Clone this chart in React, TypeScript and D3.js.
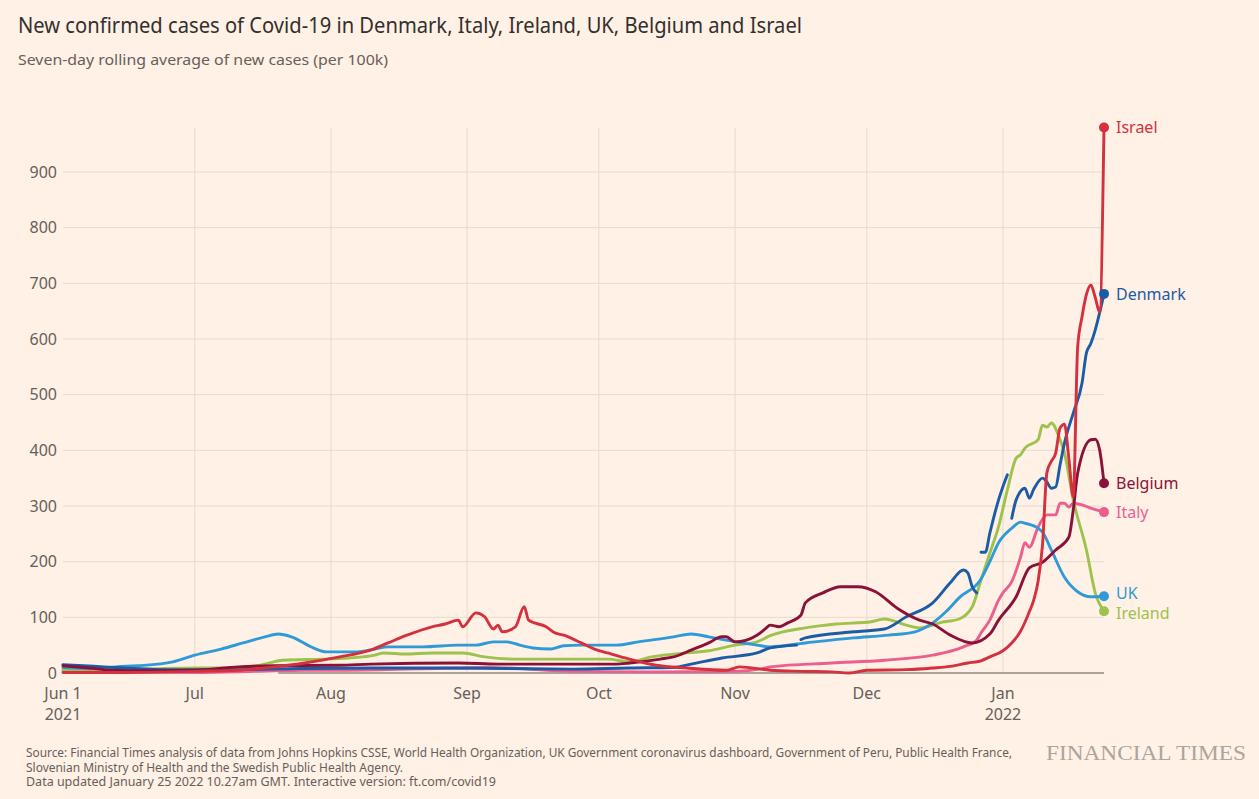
import React from "react";
import * as d3 from "d3";

type Pt = [string, number | null];

// ---------- DATA ----------
const israel: Pt[] = [
  ["2021-06-01", 1], ["2021-06-15", 1], ["2021-06-26", 2], ["2021-07-01", 3], ["2021-07-11", 5],
  ["2021-07-18", 10], ["2021-07-26", 18], ["2021-08-03", 29], ["2021-08-10", 41], ["2021-08-14", 54],
  ["2021-08-18", 67], ["2021-08-24", 83], ["2021-08-27", 88], ["2021-08-30", 95], ["2021-08-31", 83],
  ["2021-09-03", 108], ["2021-09-05", 101], ["2021-09-07", 79], ["2021-09-08", 86], ["2021-09-09", 74],
  ["2021-09-12", 83], ["2021-09-14", 119], ["2021-09-15", 95], ["2021-09-19", 83], ["2021-09-21", 72],
  ["2021-09-23", 68], ["2021-09-27", 54], ["2021-09-30", 43], ["2021-10-03", 36], ["2021-10-07", 27],
  ["2021-10-14", 14], ["2021-10-21", 9], ["2021-10-30", 5], ["2021-11-02", 11], ["2021-11-09", 5],
  ["2021-11-16", 3], ["2021-11-23", 2], ["2021-11-27", 0], ["2021-12-01", 5], ["2021-12-10", 6],
  ["2021-12-16", 9], ["2021-12-20", 12], ["2021-12-24", 18], ["2021-12-27", 22], ["2021-12-29", 29],
  ["2022-01-01", 40], ["2022-01-03", 54], ["2022-01-05", 75], ["2022-01-07", 110], ["2022-01-08", 131],
  ["2022-01-09", 165], ["2022-01-10", 230], ["2022-01-11", 360], ["2022-01-12", 380], ["2022-01-13", 395],
  ["2022-01-14", 440], ["2022-01-15", 447], ["2022-01-16", 385], ["2022-01-17", 316], ["2022-01-18", 585],
  ["2022-01-19", 640], ["2022-01-20", 680], ["2022-01-21", 697], ["2022-01-22", 675], ["2022-01-23", 648],
  ["2022-01-24", 980],
];

const denmark: Pt[] = [
  ["2021-06-01", 15], ["2021-06-08", 12], ["2021-06-15", 9], ["2021-06-25", 6], ["2021-07-10", 6],
  ["2021-07-25", 8], ["2021-08-10", 9], ["2021-08-25", 9], ["2021-09-10", 8], ["2021-09-25", 7],
  ["2021-10-08", 9], ["2021-10-18", 10], ["2021-10-22", 16], ["2021-10-29", 27], ["2021-11-06", 36],
  ["2021-11-09", 45], ["2021-11-15", 50], ["2021-11-15T18:00:00Z", null], ["2021-11-16", 60], ["2021-11-17", 63], ["2021-11-28", 74],
  ["2021-12-05", 79], ["2021-12-10", 101], ["2021-12-16", 126], ["2021-12-20", 162], ["2021-12-23", 185],
  ["2021-12-24", 180], ["2021-12-25", 155], ["2021-12-26", 144], ["2021-12-26T12:00:00Z", null],
  ["2021-12-27", 217], ["2021-12-28", 217], ["2021-12-29", 251], ["2021-12-31", 311], ["2022-01-01", 335],
  ["2022-01-02", 356], ["2022-01-02T12:00:00Z", null], ["2022-01-03", 278], ["2022-01-04", 311],
  ["2022-01-06", 332], ["2022-01-07", 314], ["2022-01-08", 330], ["2022-01-10", 350], ["2022-01-11", 343],
  ["2022-01-12", 332], ["2022-01-13", 334], ["2022-01-14", 374], ["2022-01-15", 413], ["2022-01-17", 467],
  ["2022-01-19", 521], ["2022-01-20", 575], ["2022-01-21", 592], ["2022-01-22", 616], ["2022-01-23", 647],
  ["2022-01-24", 681],
];

const uk: Pt[] = [
  ["2021-06-01", 10], ["2021-06-09", 8], ["2021-06-13", 11], ["2021-06-18", 13], ["2021-06-26", 20],
  ["2021-07-01", 32], ["2021-07-07", 43], ["2021-07-12", 54], ["2021-07-17", 65], ["2021-07-20", 70],
  ["2021-07-23", 65], ["2021-07-28", 45], ["2021-07-31", 38], ["2021-08-07", 38], ["2021-08-11", 43],
  ["2021-08-14", 47], ["2021-08-22", 47], ["2021-08-30", 50], ["2021-09-03", 50], ["2021-09-07", 56],
  ["2021-09-10", 56], ["2021-09-13", 50], ["2021-09-16", 45], ["2021-09-20", 43], ["2021-09-23", 49],
  ["2021-09-27", 50], ["2021-10-05", 50], ["2021-10-10", 56], ["2021-10-18", 65], ["2021-10-22", 70],
  ["2021-10-26", 65], ["2021-10-30", 59], ["2021-11-06", 50], ["2021-11-09", 47], ["2021-11-17", 54],
  ["2021-11-28", 63], ["2021-12-06", 68], ["2021-12-12", 74], ["2021-12-16", 90], ["2021-12-19", 110],
  ["2021-12-22", 135], ["2021-12-27", 169], ["2021-12-29", 200], ["2021-12-31", 234], ["2022-01-03", 260],
  ["2022-01-05", 271], ["2022-01-06", 269], ["2022-01-09", 260], ["2022-01-10", 253], ["2022-01-12", 221],
  ["2022-01-15", 172], ["2022-01-18", 146], ["2022-01-21", 137], ["2022-01-24", 138],
];

const ireland: Pt[] = [
  ["2021-06-01", 6], ["2021-06-15", 7], ["2021-06-24", 8], ["2021-07-02", 9], ["2021-07-11", 10],
  ["2021-07-15", 13], ["2021-07-19", 20], ["2021-07-21", 23], ["2021-07-30", 25], ["2021-08-05", 27],
  ["2021-08-11", 32], ["2021-08-13", 36], ["2021-08-18", 34], ["2021-08-24", 36], ["2021-08-31", 36],
  ["2021-09-05", 29], ["2021-09-12", 25], ["2021-09-20", 25], ["2021-10-03", 25], ["2021-10-08", 20],
  ["2021-10-13", 29], ["2021-10-18", 34], ["2021-10-26", 40], ["2021-11-01", 50], ["2021-11-06", 56],
  ["2021-11-09", 67], ["2021-11-17", 81], ["2021-11-24", 88], ["2021-12-02", 92], ["2021-12-05", 97],
  ["2021-12-10", 86], ["2021-12-13", 81], ["2021-12-18", 91], ["2021-12-22", 97], ["2021-12-25", 119],
  ["2021-12-27", 167], ["2021-12-29", 215], ["2021-12-31", 263], ["2022-01-02", 329], ["2022-01-04", 386],
  ["2022-01-05", 392], ["2022-01-06", 404], ["2022-01-09", 419], ["2022-01-10", 445], ["2022-01-11", 442],
  ["2022-01-12", 449], ["2022-01-14", 419], ["2022-01-15", 395], ["2022-01-17", 311], ["2022-01-20", 221],
  ["2022-01-22", 144], ["2022-01-24", 111],
];

const belgium: Pt[] = [
  ["2021-06-01", 13], ["2021-06-07", 9], ["2021-06-12", 5], ["2021-06-20", 4], ["2021-07-01", 5],
  ["2021-07-11", 11], ["2021-07-19", 13], ["2021-08-03", 14], ["2021-08-10", 16], ["2021-08-30", 18],
  ["2021-09-08", 16], ["2021-10-05", 16], ["2021-10-08", 18], ["2021-10-15", 25], ["2021-10-18", 29],
  ["2021-10-22", 41], ["2021-10-26", 54], ["2021-10-29", 65], ["2021-10-30", 65], ["2021-11-01", 56],
  ["2021-11-06", 68], ["2021-11-08", 80], ["2021-11-09", 86], ["2021-11-11", 83], ["2021-11-13", 90],
  ["2021-11-16", 104], ["2021-11-17", 126], ["2021-11-21", 144], ["2021-11-25", 155], ["2021-11-29", 155],
  ["2021-12-03", 146], ["2021-12-08", 116], ["2021-12-13", 95], ["2021-12-16", 88], ["2021-12-20", 68],
  ["2021-12-25", 54], ["2021-12-29", 70], ["2021-12-31", 95], ["2022-01-04", 137], ["2022-01-07", 189],
  ["2022-01-10", 199], ["2022-01-13", 221], ["2022-01-16", 244], ["2022-01-17", 293], ["2022-01-18", 359],
  ["2022-01-21", 419], ["2022-01-22", 420], ["2022-01-23", 401], ["2022-01-24", 341],
];

const italy: Pt[] = [
  ["2021-06-01", 4], ["2021-06-15", 2], ["2021-07-01", 1], ["2021-07-15", 3], ["2021-07-26", 5],
  ["2021-08-03", 5], ["2021-08-18", 7], ["2021-08-30", 9], ["2021-09-05", 10], ["2021-09-10", 9],
  ["2021-09-25", 3], ["2021-10-15", 2], ["2021-11-01", 3], ["2021-11-08", 9], ["2021-11-09", 11],
  ["2021-11-23", 18], ["2021-12-05", 23], ["2021-12-16", 32], ["2021-12-23", 47], ["2021-12-26", 59],
  ["2021-12-27", 72], ["2021-12-29", 95], ["2021-12-31", 131], ["2022-01-01", 144], ["2022-01-03", 164],
  ["2022-01-05", 208], ["2022-01-06", 234], ["2022-01-07", 226], ["2022-01-09", 262], ["2022-01-11", 284],
  ["2022-01-13", 284], ["2022-01-14", 305], ["2022-01-15", 305], ["2022-01-16", 298], ["2022-01-17", 305],
  ["2022-01-19", 302], ["2022-01-21", 296], ["2022-01-24", 289],
];

// drawing order: first drawn = bottom
const seriesNames = ["Italy", "Ireland", "UK", "Denmark", "Belgium", "Israel"];
const seriesData = [italy, ireland, uk, denmark, belgium, israel];
const seriesColors = ["#ec5e8e", "#9dc24d", "#2f9ad8", "#1b5ca6", "#8a1238", "#d4303e"];

const yTicks = [0, 100, 200, 300, 400, 500, 600, 700, 800, 900];
const xTickDates = ["2021-06-01", "2021-07-01", "2021-08-01", "2021-09-01", "2021-10-01", "2021-11-01", "2021-12-01", "2022-01-01"];
const xTickLabels = ["Jun 1", "Jul", "Aug", "Sep", "Oct", "Nov", "Dec", "Jan"];
const xTickSubLabels = ["2021", "", "", "", "", "", "", "2022"];
const xDomain = ["2021-06-01", "2022-01-24"];
const baselineStart = "2021-07-20";

const title = "New confirmed cases of Covid-19 in Denmark, Italy, Ireland, UK, Belgium and Israel";
const subtitle = "Seven-day rolling average of new cases (per 100k)";
const footerLines = [
  "Source: Financial Times analysis of data from Johns Hopkins CSSE, World Health Organization, UK Government coronavirus dashboard, Government of Peru, Public Health France,",
  "Slovenian Ministry of Health and the Swedish Public Health Agency.",
  "Data updated January 25 2022 10.27am GMT. Interactive version: ft.com/covid19",
];
const footerWidths = [986, 377, 470];

// ---------- LAYOUT ----------
const W = 1259;
const H = 799;
const left = 63;
const right = 1104;
const bottom = 673;
const top900 = 172;
const gridTop = 128;
const FONT = "'Noto Sans', 'Open Sans', sans-serif";
const TEXT = "#66605c";

export default function App() {
  const x = d3.scaleUtc().domain(xDomain.map((d) => d3.isoParse(d) as Date)).range([left, right]);
  const y = d3.scaleLinear().domain([0, 900]).range([bottom, top900]);

  const line = d3
    .line<Pt>()
    .defined((d) => d[1] !== null)
    .x((d) => x(d3.isoParse(d[0]) as Date))
    .y((d) => y(d[1] as number))
    .curve(d3.curveMonotoneX);

  // end labels with simple collision relaxation
  const ends = seriesNames.map((name, i) => {
    const data = seriesData[i];
    const last = data[data.length - 1];
    const py = y(last[1] as number);
    return { name, color: seriesColors[i], px: x(d3.isoParse(last[0]) as Date), py, ly: py };
  });
  const sorted = [...ends].sort((a, b) => a.py - b.py);
  const minGap = 20;
  for (let it = 0; it < 60; it++) {
    for (let k = 0; k < sorted.length - 1; k++) {
      const a = sorted[k];
      const b = sorted[k + 1];
      const diff = b.ly - a.ly;
      if (diff < minGap) {
        const s = (minGap - diff) / 2;
        a.ly -= s;
        b.ly += s;
      }
    }
  }

  return (
    <svg
      width={W}
      height={H}
      style={{ position: "absolute", left: 0, top: 0, display: "block" }}
      fontFamily={FONT}
    >
      <rect x={0} y={0} width={W} height={H} fill="#fff1e5" />

      <text x={18} y={33} fontSize={22} fill="#33302e" textLength={784} lengthAdjust="spacingAndGlyphs">
        {title}
      </text>
      <text x={18} y={65} fontSize={15} fill={TEXT} textLength={370} lengthAdjust="spacingAndGlyphs">
        {subtitle}
      </text>

      {/* grid */}
      {yTicks.filter((t) => t > 0).map((t) => (
        <line key={"h" + t} x1={left} x2={right} y1={y(t)} y2={y(t)} stroke="#e7dacf" strokeWidth={1} />
      ))}
      {xTickDates.slice(1).map((d) => {
        const xx = x(d3.isoParse(d) as Date);
        return <line key={"v" + d} x1={xx} x2={xx} y1={gridTop} y2={bottom} stroke="#e7dacf" strokeWidth={1} />;
      })}

      {/* y tick labels */}
      {yTicks.map((t) => (
        <text key={"yl" + t} x={57} y={y(t)} dy="0.36em" textAnchor="end" fontSize={16} fill={TEXT}>
          {t}
        </text>
      ))}

      {/* x tick labels */}
      {xTickDates.map((d, i) => {
        const xx = x(d3.isoParse(d) as Date);
        return (
          <g key={"xl" + d}>
            <text x={xx} y={699} textAnchor="middle" fontSize={16} fill={TEXT}>
              {xTickLabels[i]}
            </text>
            {xTickSubLabels[i] && (
              <text x={xx} y={720} textAnchor="middle" fontSize={16} fill={TEXT}>
                {xTickSubLabels[i]}
              </text>
            )}
          </g>
        );
      })}

      {/* baseline */}
      <line
        x1={x(d3.isoParse(baselineStart) as Date)}
        x2={right}
        y1={y(0)}
        y2={y(0)}
        stroke="#8f8a85"
        strokeWidth={1.5}
      />

      {/* lines */}
      {seriesData.map((data, i) => (
        <path
          key={seriesNames[i]}
          d={line(data) || ""}
          fill="none"
          stroke={seriesColors[i]}
          strokeWidth={2.9}
          strokeLinejoin="round"
          strokeLinecap="round"
        />
      ))}

      {/* end dots and labels */}
      {ends.map((e) => (
        <g key={"end" + e.name}>
          <circle cx={e.px} cy={e.py} r={5} fill={e.color} />
          <text x={e.px + 12} y={e.ly} dy="0.36em" fontSize={16} fill={e.color}>
            {e.name}
          </text>
        </g>
      ))}

      {/* footer */}
      {footerLines.map((t, i) => (
        <text
          key={"f" + i}
          x={26}
          y={757 + i * 14.5}
          fontSize={12.5}
          fill={TEXT}
          textLength={footerWidths[i]}
          lengthAdjust="spacingAndGlyphs"
        >
          {t}
        </text>
      ))}
      <text
        x={1046}
        y={760}
        fontSize={20}
        fill="#aca49e"
        fontFamily="'Liberation Serif', 'DejaVu Serif', serif"
        textLength={200}
        lengthAdjust="spacingAndGlyphs"
      >
        FINANCIAL TIMES
      </text>
    </svg>
  );
}
